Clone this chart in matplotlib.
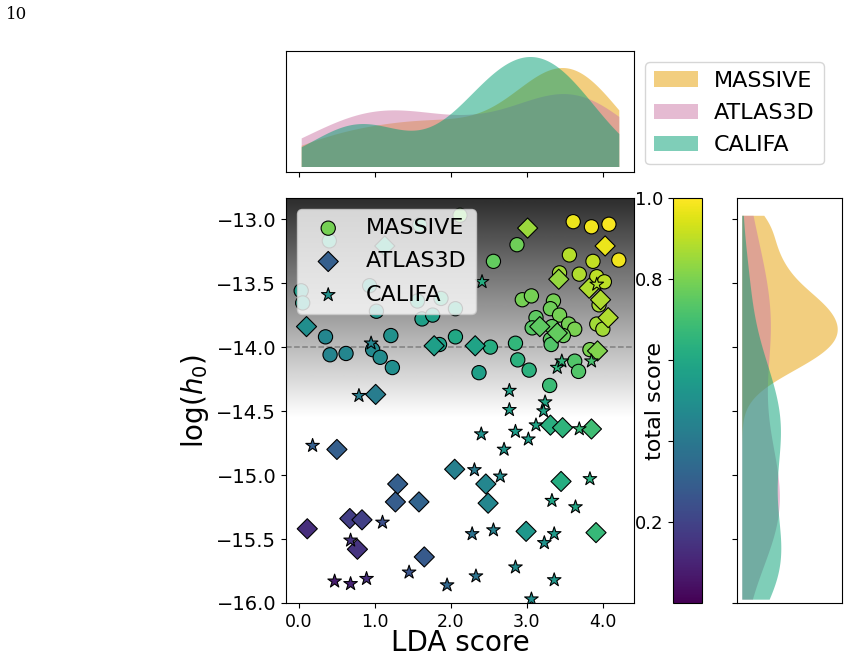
import numpy as np
import matplotlib
matplotlib.use("Agg")
import matplotlib.pyplot as plt
from matplotlib.ticker import FormatStrFormatter

# ---------------- data ----------------
massive_lda = [2.94, 3.06, 3.35, 3.31, 3.43, 3.12, 3.07, 3.33, 3.55, 3.63, 3.48, 3.31, 3.32, 3.83,
               2.87, 2.56, 3.61, 3.85, 4.08, 4.21, 3.56, 3.87, 3.43, 3.69, 3.92, 4.02, 3.95, 3.92,
               4.00, 2.85, 2.88, 3.03, 3.63, 3.68, 3.30, 2.37, 2.52, 2.06, 1.85, 1.62, 1.76, 2.06,
               1.02, 1.21, 0.35, 0.41, 0.62, 0.97, 1.07, 1.23, 0.03, 0.05, 0.40, 0.93, 1.56, 1.87,
               1.59, 2.12]
massive_logh = [-13.63, -13.60, -13.64, -13.70, -13.75, -13.77, -13.85, -13.84, -13.82, -13.86, -13.91,
                -13.94, -13.98, -14.02, -13.20, -13.33, -13.02, -13.06, -13.04, -13.32, -13.28, -13.33,
                -13.42, -13.43, -13.45, -13.49, -13.67, -13.82, -13.86, -13.97, -14.10, -14.18, -14.11,
                -14.19, -14.30, -14.20, -14.00, -13.92, -13.98, -13.78, -13.75, -13.70, -13.72, -13.91,
                -13.92, -14.06, -14.05, -14.02, -14.08, -14.16, -13.56, -13.655, -13.17, -13.52, -13.64,
                -13.62, -13.045, -12.97]
massive_score = [0.79, 0.79, 0.79, 0.78, 0.79, 0.75, 0.74, 0.76, 0.79, 0.80, 0.77, 0.75, 0.73, 0.80,
                 0.78, 0.76, 0.97, 0.98, 0.99, 0.98, 0.89, 0.91, 0.86, 0.88, 0.90, 0.90, 0.87, 0.86,
                 0.86, 0.66, 0.64, 0.64, 0.73, 0.73, 0.68, 0.56, 0.62, 0.60, 0.57, 0.56, 0.57, 0.60,
                 0.52, 0.50, 0.46, 0.45, 0.46, 0.47, 0.48, 0.49, 0.55, 0.55, 0.60, 0.55, 0.60, 0.62,
                 0.65, 0.78]

atlas_lda = [1.30, 1.27, 1.58, 1.65, 0.67, 0.83, 0.77, 0.11, 0.50, 2.05, 2.46, 2.49, 2.99, 3.91,
             3.45, 3.31, 3.47, 3.85, 1.01, 0.10, 1.78, 2.32, 3.17, 3.40, 3.01, 4.03, 3.42, 3.82,
             3.97, 4.07, 3.93, 1.13]
atlas_logh = [-15.07, -15.21, -15.21, -15.64, -15.34, -15.35, -15.58, -15.42, -14.80, -14.955, -15.07,
              -15.22, -15.44, -15.45, -15.05, -14.61, -14.63, -14.64, -14.37, -13.84, -13.99, -13.99,
              -13.84, -13.89, -13.07, -13.21, -13.47, -13.54, -13.63, -13.77, -14.03, -13.21]
atlas_score = [0.30, 0.29, 0.32, 0.28, 0.18, 0.19, 0.15, 0.13, 0.30, 0.43, 0.46, 0.46, 0.53, 0.67,
               0.62, 0.63, 0.65, 0.69, 0.42, 0.49, 0.56, 0.58, 0.75, 0.76, 0.85, 0.97, 0.84, 0.88,
               0.88, 0.88, 0.81, 0.60]

califa_lda = [2.40, 2.85, 3.02, 2.70, 3.12, 3.69, 2.77, 3.24, 3.22, 2.77, 3.40, 3.46, 3.85, 2.41,
              3.92, 0.95, 0.79, 0.18, 2.31, 2.65, 3.83, 3.33, 3.64, 2.28, 2.56, 3.36, 3.23, 2.85,
              2.33, 3.36, 3.06, 1.10, 0.68, 1.45, 0.47, 0.68, 0.89, 1.95]
califa_logh = [-14.68, -14.66, -14.72, -14.80, -14.61, -14.64, -14.49, -14.43, -14.50, -14.34, -14.16,
               -14.11, -14.11, -13.49, -13.51, -13.97, -14.38, -14.77, -14.96, -15.01, -15.03, -15.20,
               -15.25, -15.46, -15.43, -15.46, -15.53, -15.72, -15.79, -15.82, -15.97, -15.37, -15.51,
               -15.76, -15.83, -15.85, -15.81, -15.86]
califa_score = [0.50, 0.55, 0.55, 0.52, 0.58, 0.67, 0.56, 0.59, 0.58, 0.57, 0.65, 0.66, 0.71, 0.62,
                0.88, 0.45, 0.42, 0.30, 0.41, 0.48, 0.63, 0.58, 0.59, 0.37, 0.43, 0.54, 0.51, 0.48,
                0.38, 0.53, 0.49, 0.24, 0.15, 0.26, 0.08, 0.10, 0.13, 0.33]

surveys = ["MASSIVE", "ATLAS3D", "CALIFA"]
markers = ["o", "D", "*"]
kde_colors = ["#E69F00", "#CC79A7", "#009E73"]
lda_sets = [massive_lda, atlas_lda, califa_lda]
logh_sets = [massive_logh, atlas_logh, califa_logh]
score_sets = [massive_score, atlas_score, califa_score]
threshold = -14.0


def kde(data, grid):
    d = np.asarray(data, float)
    bw = len(d) ** (-1 / 5) * d.std(ddof=1)
    z = (grid[:, None] - d[None, :]) / bw
    return np.exp(-0.5 * z ** 2).sum(axis=1) / (len(d) * bw * np.sqrt(2 * np.pi))


W, H = 849, 659
fig = plt.figure(figsize=(W / 100, H / 100), dpi=100)


def box(x0, y0, x1, y1):
    return [x0 / W, 1 - y1 / H, (x1 - x0) / W, (y1 - y0) / H]


ax = fig.add_axes(box(286, 198, 634, 603))
axt = fig.add_axes(box(286, 51, 634, 172))
cax = fig.add_axes(box(673, 198, 702, 603))
axr = fig.add_axes(box(737, 198, 842, 603))

xlim = (-0.17, 4.41)
ylim = (-16.0, -12.835)

# background gradient
yy = np.linspace(ylim[1], ylim[0], 400)
g = np.clip(0.18 + 0.82 * (ylim[1] - yy) / (ylim[1] - (-14.55)), 0, 1)
ax.imshow(g[:, None], cmap="gray", vmin=0, vmax=1, aspect="auto",
          extent=[xlim[0], xlim[1], ylim[0], ylim[1]], origin="upper", zorder=0)

sc = None
for name, m, xs, ys, cs in zip(surveys, markers, lda_sets, logh_sets, score_sets):
    sc = ax.scatter(xs, ys, c=cs, cmap="viridis", vmin=0, vmax=1, marker=m, s=105,
                    edgecolors="black", linewidths=0.8, label=name, zorder=3)
ax.axhline(threshold, color="gray", ls="--", lw=1.1, zorder=2)
ax.set_xlim(*xlim)
ax.set_ylim(*ylim)
ax.set_xticks([0, 1, 2, 3, 4])
ax.xaxis.set_major_formatter(FormatStrFormatter("%.1f"))
ax.tick_params(axis="x", labelsize=12.5)
ax.tick_params(axis="y", labelsize=14)
ax.set_xlabel("LDA score", fontsize=20, labelpad=-1)
ax.set_ylabel(r"$\log(h_0)$", fontsize=20)
ax.legend(loc="upper left", fontsize=16, labelspacing=0.6, handletextpad=0.7)

# colorbar
cb = fig.colorbar(sc, cax=cax)
cb.set_ticks([0.2, 0.4, 0.6, 0.8, 1.0])
cb.set_ticklabels(["0.2", "", "", "0.8", "1.0"])
cax.yaxis.set_ticks_position("left")
cax.yaxis.set_label_position("left")
cax.tick_params(labelsize=13)
fig.text(655 / W, 1 - 401 / H, "total score", rotation=90, fontsize=16,
         ha="center", va="center")

# top marginal
allx = np.concatenate([np.asarray(v) for v in lda_sets])
gx = np.linspace(allx.min(), allx.max(), 300)
for name, col, xs in zip(surveys, kde_colors, lda_sets):
    axt.fill_between(gx, 0, kde(xs, gx), color=col, alpha=0.5, lw=0, label=name)
axt.set_xlim(*xlim)
axt.set_xticks([0, 1, 2, 3, 4])
axt.set_xticklabels([])
axt.set_yticks([])
axt.legend(loc="upper left", bbox_to_anchor=(1.0, 1.0), fontsize=16, labelspacing=0.55,
           handletextpad=0.7)

# right marginal
ally = np.concatenate([np.asarray(v) for v in logh_sets])
gy = np.linspace(ally.min(), ally.max(), 300)
for name, col, ys in zip(surveys, kde_colors, logh_sets):
    axr.fill_betweenx(gy, 0, kde(ys, gy), color=col, alpha=0.5, lw=0)
axr.set_ylim(*ylim)
axr.set_yticks([-13.0, -13.5, -14.0, -14.5, -15.0, -15.5, -16.0])
axr.set_yticklabels([])
axr.set_xticks([])

fig.text(6 / W, 1 - 6 / H, "10", family="DejaVu Serif", fontsize=12, va="top", ha="left")

fig.savefig("out.png", dpi=100)
